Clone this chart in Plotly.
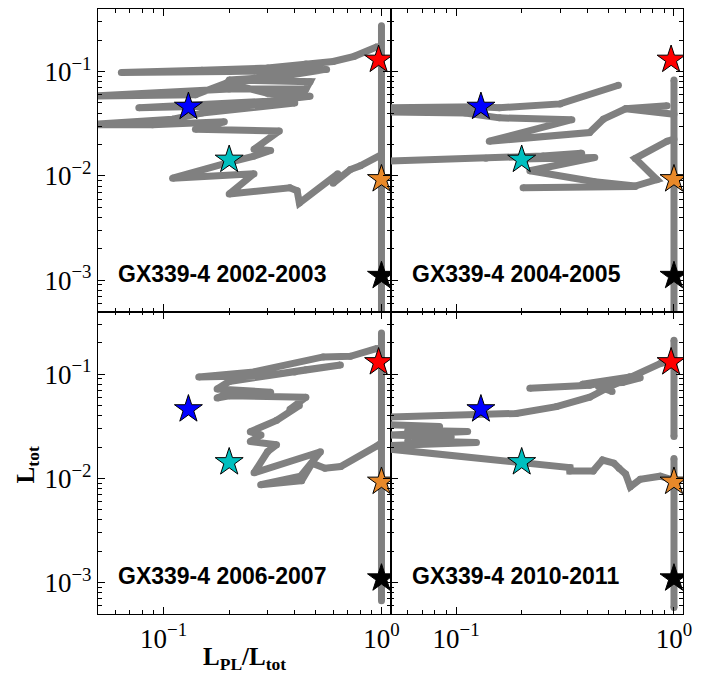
import plotly.graph_objects as go
from plotly.subplots import make_subplots

# ---------------- data ----------------
panel_titles = ["GX339-4 2002-2003", "GX339-4 2004-2005",
                "GX339-4 2006-2007", "GX339-4 2010-2011"]

# reference states (stars), same in every panel
star_x = [0.97, 1.0, 1.0, 0.13, 0.20]
star_y = [0.13, 0.0093, 0.0011, 0.046, 0.0143]
star_colors = ["#ff0000", "#e8892a", "#000000", "#0000ff", "#00bfbf"]

# tracks: list of segments, each a list of (L_PL/L_tot, L_tot)
track_2002 = [
    [(1.0, 0.0003), (1.0, 0.275)],
    [(0.955, 0.173), (0.75, 0.14), (0.60, 0.125), (0.45, 0.118), (0.30, 0.108),
     (0.15, 0.103), (0.064, 0.098), (0.20, 0.100), (0.40, 0.102), (0.56, 0.105),
     (0.35, 0.090), (0.20, 0.083), (0.47, 0.080), (0.45, 0.068), (0.20, 0.068),
     (0.10, 0.063), (0.045, 0.058), (0.14, 0.060), (0.195, 0.078), (0.30, 0.062),
     (0.47, 0.058), (0.30, 0.052), (0.077, 0.045), (0.20, 0.047), (0.40, 0.050),
     (0.15, 0.040), (0.11, 0.035), (0.045, 0.031), (0.089, 0.031), (0.19, 0.033),
     (0.14, 0.028), (0.34, 0.027), (0.26, 0.018), (0.31, 0.0175), (0.26, 0.0155),
     (0.20, 0.0135), (0.11, 0.0095), (0.26, 0.0105), (0.20, 0.0067), (0.38, 0.0077),
     (0.41, 0.0072), (0.42, 0.0055), (0.63, 0.0105), (0.60, 0.0085), (0.72, 0.0115),
     (0.80, 0.0125), (1.0, 0.016), (1.0, 0.009)],
]

track_2004 = [
    [(1.0, 0.0003), (1.0, 0.083)],
    [(1.0, 0.039), (0.60, 0.044), (0.93, 0.047), (0.60, 0.044), (0.474, 0.035),
     (0.41, 0.026), (0.142, 0.0215), (0.34, 0.0346), (0.158, 0.036), (0.11, 0.040),
     (0.045, 0.041), (0.045, 0.045), (0.128, 0.046), (0.158, 0.045), (0.30, 0.049),
     (0.556, 0.074)],
    [(0.045, 0.0138), (0.137, 0.0148), (0.25, 0.0155), (0.377, 0.0165), (0.20, 0.0145),
     (0.433, 0.0150), (0.218, 0.0112), (0.433, 0.0088), (0.664, 0.0080), (0.835, 0.0092),
     (0.664, 0.0147), (0.93, 0.0215), (1.0, 0.0225)],
    [(0.203, 0.0077), (0.664, 0.0079)],
]

track_2006 = [
    [(1.0, 0.00067), (1.0, 0.248)],
    [(0.955, 0.176), (0.72, 0.148), (0.54, 0.146), (0.26, 0.105), (0.145, 0.094),
     (0.30, 0.097), (0.45, 0.110), (0.648, 0.122), (0.40, 0.105), (0.20, 0.085),
     (0.176, 0.072), (0.31, 0.067), (0.20, 0.066), (0.176, 0.059), (0.20, 0.062),
     (0.45, 0.060), (0.38, 0.046), (0.42, 0.050), (0.33, 0.036), (0.25, 0.028),
     (0.28, 0.026), (0.25, 0.0226), (0.33, 0.021), (0.30, 0.018), (0.26, 0.0113),
     (0.525, 0.018), (0.425, 0.0105), (0.279, 0.0087), (0.43, 0.0095), (0.48, 0.014),
     (0.55, 0.0125), (0.65, 0.013), (0.955, 0.0205), (1.0, 0.022)],
]

track_2010 = [
    [(1.0, 0.211), (1.0, 0.0252)],
    [(1.0, 0.0155), (1.0, 0.00058)],
    [(0.045, 0.0385), (0.189, 0.042), (0.289, 0.0488), (0.41, 0.060), (0.509, 0.076),
     (0.63, 0.094), (0.865, 0.126), (1.0, 0.136)],
    [(0.218, 0.073), (0.41, 0.078), (0.63, 0.094), (0.38, 0.080), (0.58, 0.083),
     (0.70, 0.092), (0.45, 0.076), (0.52, 0.068)],
    [(0.045, 0.033), (0.084, 0.0314), (0.06, 0.029), (0.113, 0.0281), (0.05, 0.026),
     (0.095, 0.025), (0.06, 0.023), (0.124, 0.0221), (0.045, 0.0205)],
    [(0.045, 0.0195), (0.19, 0.0145), (0.333, 0.0127), (0.333, 0.0118), (0.426, 0.0118),
     (0.47, 0.0150), (0.53, 0.0140), (0.56, 0.0125), (0.60, 0.011), (0.63, 0.0083),
     (0.70, 0.0098), (0.865, 0.0105), (1.0, 0.0096)],
]

tracks = [track_2002, track_2004, track_2006, track_2010]

x_tickvals = [0.1, 1.0]
x_ticktext = ["10<sup>−1</sup>", "10<sup>0</sup>"]
y_tickvals = [0.001, 0.01, 0.1]
y_ticktext = ["10<sup>−3</sup>", "10<sup>−2</sup>", "10<sup>−1</sup>"]

# ---------------- figure ----------------
fig = make_subplots(rows=2, cols=2, horizontal_spacing=0, vertical_spacing=0)
positions = [(1, 1), (1, 2), (2, 1), (2, 2)]

for (r, c), segs in zip(positions, tracks):
    xs, ys = [], []
    for seg in segs:
        xs += [p[0] for p in seg] + [None]
        ys += [p[1] for p in seg] + [None]
    fig.add_trace(go.Scatter(x=xs, y=ys, mode="lines+markers",
                             line=dict(color="#808080", width=7),
                             marker=dict(color="#808080", size=7),
                             hoverinfo="skip", showlegend=False), row=r, col=c)
    fig.add_trace(go.Scatter(x=star_x, y=star_y, mode="markers",
                             marker=dict(symbol="star", size=21, color=star_colors,
                                         line=dict(color="black", width=1)),
                             showlegend=False), row=r, col=c)

serif = "Liberation Serif"
axis_common = dict(type="log", showline=True, linecolor="black", linewidth=1.2,
                   mirror="allticks", ticks="inside", ticklen=7, tickwidth=1,
                   tickcolor="black", showgrid=False, zeroline=False,
                   minor=dict(ticks="inside", ticklen=3.5, tickwidth=1,
                              tickcolor="black", dtick="D1", showgrid=False),
                   tickfont=dict(family=serif, size=27, color="black"))

for i, (r, c) in enumerate(positions):
    fig.update_xaxes(axis_common, range=[-1.301, 0.0414], tickmode="array",
                     tickvals=x_tickvals, ticktext=x_ticktext,
                     showticklabels=(r == 2), row=r, col=c)
    fig.update_yaxes(axis_common, range=[-3.3, -0.4], tickmode="array",
                     tickvals=y_tickvals, ticktext=y_ticktext,
                     showticklabels=(c == 1), row=r, col=c)

# panel labels
for i, title in enumerate(panel_titles):
    xr = "x domain" if i == 0 else f"x{i+1} domain"
    yr = "y domain" if i == 0 else f"y{i+1} domain"
    fig.add_annotation(text=f"<b>{title}</b>", xref=xr, yref=yr,
                       x=0.062 if i % 2 == 0 else 0.065, y=0.125,
                       xanchor="left", yanchor="middle", showarrow=False,
                       font=dict(family="Liberation Sans", size=23, color="black"))

# axis titles
fig.add_annotation(text="<b>L<sub>PL</sub>/L<sub>tot</sub></b>", xref="x3 domain",
                   yref="paper", x=0.5, y=-0.073, xanchor="center", yanchor="middle",
                   showarrow=False, font=dict(family=serif, size=25, color="black"))
fig.add_annotation(text="<b>L<sub>tot</sub></b>", xref="paper", yref="paper",
                   x=-0.121, y=0.246, xanchor="center", yanchor="middle",
                   textangle=-90, showarrow=False,
                   font=dict(family=serif, size=25, color="black"))

# page body has an 8px margin: size the figure so the plot area lands in place
fig.update_layout(width=703, height=667, plot_bgcolor="white", paper_bgcolor="white",
                  margin=dict(l=90, r=28, t=1, b=61), showlegend=False)

fig.write_html("out.html")
